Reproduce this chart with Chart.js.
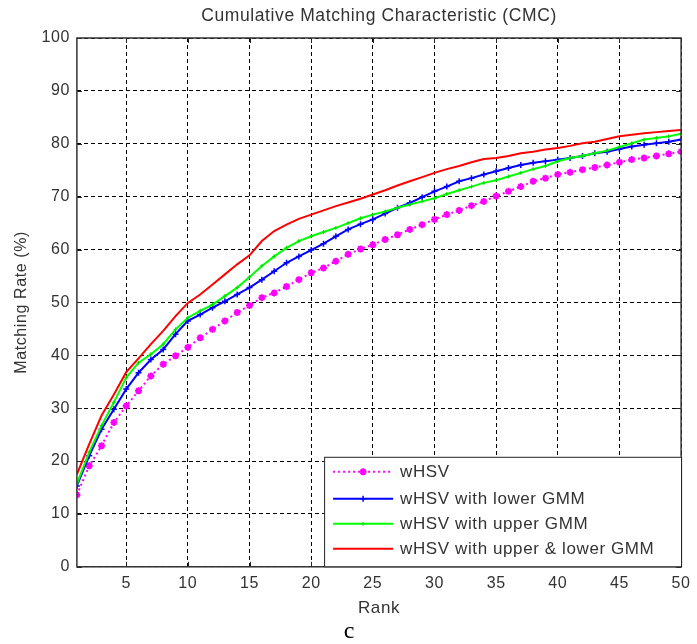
<!DOCTYPE html>
<html>
<head>
<meta charset="utf-8">
<script src="https://cdn.jsdelivr.net/npm/chart.js@4/dist/chart.umd.min.js"></script>
<style>
  html, body { margin: 0; padding: 0; background: #fff; }
  #wrap { width: 697px; height: 644px; position: relative; }
</style>
</head>
<body>
<div id="wrap"><canvas id="cmcChart"></canvas></div>
<script>
const ranks = [];
for (let r = 1; r <= 50; r++) ranks.push(r);

const xTicks = [5, 10, 15, 20, 25, 30, 35, 40, 45, 50];

const seriesNames = ['wHSV', 'wHSV with lower GMM', 'wHSV with upper GMM', 'wHSV with upper & lower GMM'];

const wHSV = [13.6, 19.1, 22.9, 27.3, 30.4, 33.3, 36.1, 38.3, 39.9, 41.5,
  43.3, 44.9, 46.5, 48.1, 49.4, 50.9, 51.8, 53.0, 54.3, 55.6,
  56.5, 57.8, 59.1, 60.1, 60.9, 61.9, 62.8, 63.8, 64.7, 65.7,
  66.6, 67.4, 68.3, 69.1, 70.1, 71.0, 71.9, 72.9, 73.5, 74.2,
  74.6, 75.1, 75.5, 76.0, 76.5, 77.0, 77.3, 77.7, 78.1, 78.5];

const lowerGMM = [15.3, 21.0, 26.0, 29.8, 33.6, 36.7, 39.2, 41.1, 44.0, 46.5,
  47.7, 49.0, 50.2, 51.5, 52.8, 54.3, 55.9, 57.5, 58.7, 59.9,
  61.1, 62.5, 63.8, 64.8, 65.7, 66.8, 67.9, 68.8, 69.9, 71.0,
  71.9, 72.9, 73.5, 74.2, 74.8, 75.4, 76.0, 76.4, 76.7, 77.0,
  77.3, 77.7, 78.2, 78.5, 79.0, 79.5, 79.8, 80.1, 80.4, 80.8];

const upperGMM = [15.7, 21.7, 26.7, 31.1, 35.8, 38.6, 40.2, 42.1, 44.9, 47.1,
  48.4, 49.6, 51.2, 52.8, 54.8, 56.9, 58.7, 60.3, 61.6, 62.5,
  63.3, 64.1, 65.0, 65.9, 66.6, 67.2, 67.9, 68.5, 69.1, 69.7,
  70.5, 71.2, 71.9, 72.6, 73.1, 73.8, 74.5, 75.2, 75.8, 76.7,
  77.3, 77.7, 78.2, 78.7, 79.4, 80.1, 80.8, 81.1, 81.4, 81.9];

const upperLowerGMM = [17.5, 23.2, 28.6, 32.6, 36.8, 39.4, 42.1, 44.6, 47.4, 49.9,
  51.5, 53.4, 55.3, 57.2, 58.9, 61.6, 63.5, 64.7, 65.8, 66.6,
  67.4, 68.2, 68.9, 69.6, 70.4, 71.2, 72.1, 72.9, 73.7, 74.5,
  75.2, 75.8, 76.5, 77.1, 77.3, 77.7, 78.2, 78.5, 78.9, 79.2,
  79.6, 80.1, 80.4, 80.9, 81.4, 81.7, 82.0, 82.2, 82.4, 82.6];

const textColor = '#333';
const sans = '"Liberation Sans", Arial, sans-serif';

// MATLAB style box, inward ticks and the legend inside the axes
const matlabBox = {
  id: 'matlabBox',
  beforeDraw(chart) {
    chart.ctx.letterSpacing = '0.6px';
  },
  afterDatasetsDraw(chart) {
    const { ctx, chartArea: a, scales } = chart;
    ctx.save();
    ctx.strokeStyle = '#222';
    ctx.lineWidth = 1;
    ctx.beginPath();
    xTicks.forEach(v => {
      const x = Math.round(scales.x.getPixelForValue(v)) + 0.5;
      ctx.moveTo(x, a.bottom); ctx.lineTo(x, a.bottom - 5);
      ctx.moveTo(x, a.top); ctx.lineTo(x, a.top + 5);
    });
    scales.y.ticks.forEach(t => {
      const y = Math.round(scales.y.getPixelForValue(t.value)) + 0.5;
      ctx.moveTo(a.left, y); ctx.lineTo(a.left + 5, y);
      ctx.moveTo(a.right, y); ctx.lineTo(a.right - 5, y);
    });
    ctx.stroke();
    ctx.lineWidth = 1.5;
    ctx.strokeStyle = '#333';
    ctx.strokeRect(a.left, a.top, a.right - a.left, a.bottom - a.top);

    // legend
    const w = 357, h = 110;
    const lx = a.right - w, ly = a.bottom - h;
    ctx.fillStyle = '#fff';
    ctx.fillRect(lx, ly, w, h);
    ctx.lineWidth = 1;
    ctx.strokeStyle = '#222';
    ctx.strokeRect(lx + 0.5, ly + 0.5, w, h - 0.5);
    const rows = [15, 42, 67, 92];
    chart.data.datasets.forEach((ds, i) => {
      const y = ly + rows[i];
      ctx.save();
      ctx.strokeStyle = ds.borderColor;
      ctx.lineWidth = ds.borderWidth;
      ctx.setLineDash(ds.borderDash || []);
      ctx.beginPath();
      ctx.moveTo(lx + 9, y); ctx.lineTo(lx + 69, y);
      ctx.stroke();
      ctx.setLineDash([]);
      if (ds.pointRadius > 0) {
        ctx.fillStyle = ds.pointBackgroundColor;
        ctx.strokeStyle = ds.pointBorderColor;
        ctx.lineWidth = ds.pointBorderWidth;
        Chart.helpers.drawPoint(ctx, {
          pointStyle: ds.pointStyle, radius: ds.pointRadius, rotation: 0, borderWidth: ds.pointBorderWidth
        }, lx + 39, y);
      }
      ctx.restore();
      ctx.fillStyle = textColor;
      ctx.font = '17px ' + sans;
      ctx.textBaseline = 'middle';
      ctx.fillText(seriesNames[i], lx + 76, y + 1);
    });
    ctx.restore();
  }
};

new Chart(document.getElementById('cmcChart'), {
  type: 'line',
  data: {
    labels: ranks,
    datasets: [
      {
        label: seriesNames[0], data: wHSV, order: 4,
        borderColor: '#ff00ff', borderWidth: 2, borderDash: [2, 3],
        pointStyle: 'star', pointRadius: 3.5, pointBorderWidth: 2,
        pointBorderColor: '#ff00ff', pointBackgroundColor: '#ff00ff'
      },
      {
        label: seriesNames[1], data: lowerGMM, order: 3,
        borderColor: '#0000ff', borderWidth: 2,
        pointStyle: 'cross', pointRadius: 3, pointBorderWidth: 1.5,
        pointBorderColor: '#0000ff', pointBackgroundColor: '#0000ff'
      },
      {
        label: seriesNames[2], data: upperGMM, order: 2,
        borderColor: '#00ff00', borderWidth: 2,
        pointStyle: 'cross', pointRadius: 2, pointBorderWidth: 1,
        pointBorderColor: '#00dd00', pointBackgroundColor: '#00ff00'
      },
      {
        label: seriesNames[3], data: upperLowerGMM, order: 1,
        borderColor: '#ff0000', borderWidth: 2,
        pointRadius: 0, pointBorderWidth: 0,
        pointBorderColor: '#ff0000', pointBackgroundColor: '#ff0000'
      }
    ]
  },
  options: {
    responsive: true,
    maintainAspectRatio: false,
    devicePixelRatio: 1,
    animation: false,
    tension: 0,
    layout: { padding: { left: 8, right: 6, top: 4, bottom: 0 } },
    plugins: {
      legend: { display: false },
      tooltip: { enabled: false },
      title: {
        display: true,
        fullSize: false,
        text: 'Cumulative Matching Characteristic (CMC)',
        color: textColor,
        font: { family: sans, size: 17.5, weight: 'normal' },
        padding: { top: 2, bottom: 11 }
      },
      subtitle: {
        display: true,
        position: 'bottom',
        text: 'c',
        color: '#000',
        font: { family: '"Liberation Serif", "Times New Roman", serif', size: 24, weight: 'normal', lineHeight: 1 },
        padding: { top: 3, bottom: 0 }
      }
    },
    scales: {
      x: {
        type: 'linear',
        min: 1,
        max: 50,
        afterBuildTicks: scale => { scale.ticks = xTicks.map(v => ({ value: v })); },
        grid: { color: '#000', lineWidth: 1, drawTicks: false },
        border: { display: false, dash: [4, 3] },
        ticks: { color: textColor, font: { family: sans, size: 16 }, padding: 7, maxRotation: 0 },
        title: { display: true, text: 'Rank', color: textColor, font: { family: sans, size: 17, lineHeight: 1 }, padding: { top: 0, bottom: 0 } }
      },
      y: {
        min: 0,
        max: 100,
        ticks: { stepSize: 10, color: textColor, font: { family: sans, size: 16 }, padding: 7 },
        grid: { color: '#000', lineWidth: 1, drawTicks: false },
        border: { display: false, dash: [4, 3] },
        title: { display: true, text: 'Matching Rate (%)', color: textColor, font: { family: sans, size: 16 }, padding: { top: 4, bottom: 5 } }
      }
    }
  },
  plugins: [matlabBox]
});
</script>
</body>
</html>
